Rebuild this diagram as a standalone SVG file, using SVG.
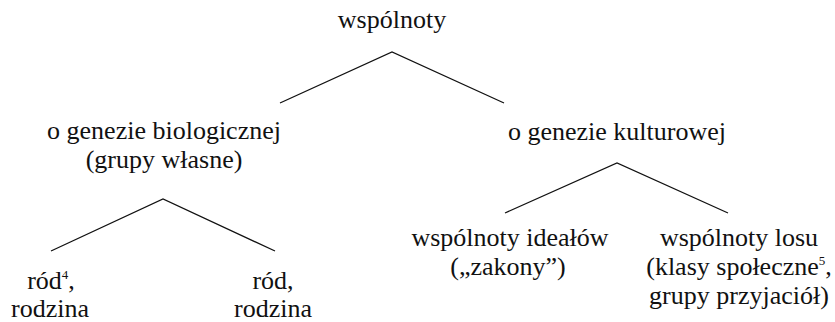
<svg xmlns="http://www.w3.org/2000/svg" width="835" height="322" viewBox="0 0 835 322">
<style>
.t{font-family:'Liberation Serif','DejaVu Serif',serif;font-size:26px;fill:#111;text-anchor:middle}
.sup{font-size:13px}
.edge{stroke:#111;stroke-width:1.3;fill:none}
</style>
<rect width="835" height="322" fill="#fff"/>
<g id="connectors">
<polyline class="edge" points="280,103 392,52 504,103"/>
<polyline class="edge" points="51,251 163,199 275,251"/>
<polyline class="edge" points="505,213 617,163 728,213"/>
</g>
<g font-family="Liberation Serif, DejaVu Serif, serif">
<g id="root"><text class="t" x="392" y="28">wspólnoty</text></g>
<g id="bio"><text class="t" x="164" y="139">o genezie biologicznej</text><text class="t" x="164" y="168">(grupy własne)</text></g>
<g id="kult"><text class="t" x="617" y="140">o genezie kulturowej</text></g>
<g id="rod1"><text class="t" x="51" y="289">ród<tspan class="sup" dy="-10">4</tspan><tspan dy="10">,</tspan></text><text class="t" x="50" y="317">rodzina</text></g>
<g id="rod2"><text class="t" x="273" y="289">ród,</text><text class="t" x="273" y="317">rodzina</text></g>
<g id="idealy"><text class="t" x="510" y="246">wspólnoty ideałów</text><text class="t" x="508" y="275">(„zakony”)</text></g>
<g id="los"><text class="t" x="739" y="246">wspólnoty losu</text><text class="t" x="739" y="275">(klasy społeczne<tspan class="sup" dy="-10">5</tspan><tspan dy="10">,</tspan></text><text class="t" x="739" y="304">grupy przyjaciół)</text></g>
</g>
</svg>
